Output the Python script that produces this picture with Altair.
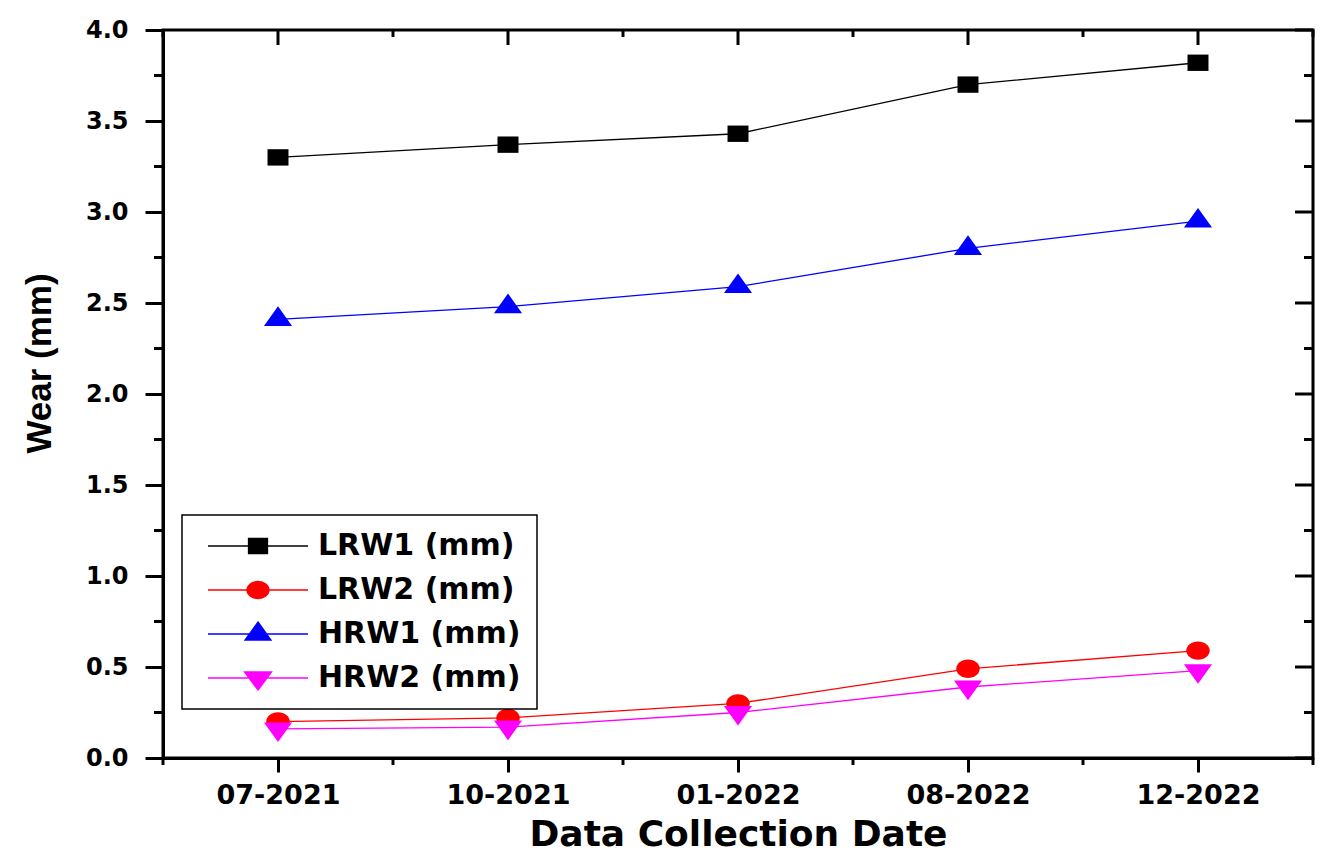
import altair as alt
import pandas as pd

# ---------------- data ----------------
dates = ["07-2021", "10-2021", "01-2022", "08-2022", "12-2022"]
series = ["LRW1 (mm)", "LRW2 (mm)", "HRW1 (mm)", "HRW2 (mm)"]
lrw1 = [3.30, 3.37, 3.43, 3.70, 3.82]
lrw2 = [0.20, 0.22, 0.30, 0.49, 0.59]
hrw1 = [2.41, 2.48, 2.59, 2.80, 2.95]
hrw2 = [0.16, 0.17, 0.25, 0.39, 0.48]
colors = ["#000000", "#FF0000", "#0000FF", "#FF00FF"]

x_major = [1, 2, 3, 4, 5]
x_minor = [0.5, 1.5, 2.5, 3.5, 4.5, 5.5]
y_major = [0.0, 0.5, 1.0, 1.5, 2.0, 2.5, 3.0, 3.5, 4.0]
y_minor = [0.25, 0.75, 1.25, 1.75, 2.25, 2.75, 3.25, 3.75]

# marker shapes (custom paths, unit box scaled by sqrt(size)/2)
point_paths = [
    "M-1,-0.78H1V0.78H-1Z",
    "M-1.12,0A1.12,0.88,0,1,0,1.12,0A1.12,0.88,0,1,0,-1.12,0Z",
    "M0,-1.25L1.34,0.62L-1.34,0.62Z",
    "M0,1.25L1.34,-0.62L-1.34,-0.62Z",
]
legend_paths = [
    "M-5,0H5M-0.95,-0.75H0.95V0.75H-0.95Z",
    "M-5,0H5M-1.1,0A1.1,0.85,0,1,0,1.1,0A1.1,0.85,0,1,0,-1.1,0Z",
    "M-5,0H5M0,-1.2L1.3,0.6L-1.3,0.6Z",
    "M-5,0H5M0,1.2L1.35,-0.6L-1.35,-0.6Z",
]

rows = []
for name, vals in zip(series, [lrw1, lrw2, hrw1, hrw2]):
    for i, (d, v) in enumerate(zip(dates, vals)):
        rows.append({"series": name, "idx": i + 1, "date": d, "wear": v})
df = pd.DataFrame(rows)

W, H = 1150, 728
FONT = "DejaVu Sans"

xscale = alt.Scale(domain=[0.5, 5.5], nice=False, zero=False)
yscale = alt.Scale(domain=[0, 4], nice=False, zero=False)

label_expr = "[" + ",".join("'%s'" % d for d in dates) + "][datum.value - 1]"

x_axis = alt.Axis(
    values=x_major, labelExpr=label_expr, tickSize=14, labelPadding=31,
    labelBaseline="alphabetic", labelFont=FONT, labelFontSize=27,
    labelFontWeight="bold", labelFlush=False, labelOverlap=False,
    title="Data Collection Date", titleFont=FONT, titleFontSize=36,
    titleFontWeight="bold", titleX=575, titleY=87, titleBaseline="alphabetic",
    titleAlign="center", titleColor="black",
)
y_axis = alt.Axis(
    values=y_major, format=".1f", tickSize=18, labelPadding=17,
    labelFont=FONT, labelFontSize=24, labelFontWeight="bold",
    labelFlush=False, labelOverlap=False,
    title="Wear (mm)", titleFont="Liberation Sans", titleFontSize=35,
    titleFontWeight="bold", titleX=-113, titleY=333, titleBaseline="alphabetic",
    titleAlign="center", titleAngle=270, titleColor="black",
)

x_enc = alt.X("idx:Q", scale=xscale, axis=x_axis)
y_enc = alt.Y("wear:Q", scale=yscale, axis=y_axis)

series_layers = []
for name, col, path in zip(series, colors, point_paths):
    base = alt.Chart(df).transform_filter(alt.datum.series == name)
    series_layers.append(
        base.mark_line(strokeWidth=1.3, color=col).encode(x=x_enc, y=y_enc)
    )
    series_layers.append(
        base.mark_point(shape=path, filled=True, size=440, color=col, opacity=1, strokeWidth=0)
        .encode(x=x_enc, y=y_enc)
    )

# tick marks for minor / mirrored axes
xmaj_df = pd.DataFrame({"idx": x_major})
xmin_df = pd.DataFrame({"idx": x_minor})
ymaj_df = pd.DataFrame({"wear": y_major})
ymin_df = pd.DataFrame({"wear": y_minor})

def rule(d):
    return alt.Chart(d).mark_rule(color="black", strokeWidth=3)

ticks = [
    rule(xmin_df).encode(x=x_enc, y=alt.value(H), y2=alt.value(H + 7)),
    rule(xmaj_df).encode(x=x_enc, y=alt.value(0), y2=alt.value(15)),
    rule(xmin_df).encode(x=x_enc, y=alt.value(0), y2=alt.value(7)),
    rule(ymin_df).encode(y=y_enc, x=alt.value(0), x2=alt.value(-9)),
    rule(ymaj_df).encode(y=y_enc, x=alt.value(W), x2=alt.value(W - 18)),
    rule(ymin_df).encode(y=y_enc, x=alt.value(W), x2=alt.value(W - 9)),
]

leg = alt.Legend(
    title=None, orient="none", legendX=19, legendY=485, symbolSize=400,
    symbolStrokeWidth=1.3, symbolOffset=45, labelFont=FONT, labelFontSize=30,
    labelFontWeight="bold", labelColor="black", labelOffset=45,
    rowPadding=14, padding=16, strokeColor="black", fillColor="white",
    symbolOpacity=1, labelLimit=400,
)
legend_layer = alt.Chart(df).transform_filter("false").mark_point(filled=True, opacity=1).encode(
    x=x_enc, y=y_enc,
    fill=alt.Fill("series:N", scale=alt.Scale(domain=series, range=colors), legend=leg),
    stroke=alt.Stroke("series:N", scale=alt.Scale(domain=series, range=colors), legend=leg),
    shape=alt.Shape("series:N", scale=alt.Scale(domain=series, range=legend_paths), legend=leg),
)

chart = alt.layer(*series_layers, *ticks, legend_layer).properties(
    width=W, height=H,
    padding={"left": 163, "top": 30, "right": 7, "bottom": 101},
    autosize=alt.AutoSizeParams(type="none"),
    background="white",
).configure_view(
    stroke="black", strokeWidth=3,
).configure_axis(
    domainColor="black", domainWidth=3, tickColor="black", tickWidth=3,
    grid=False, labelColor="black",
).configure_legend(
    strokeWidth=1.5,
)

chart.save("out.html", embed_options={"renderer": "svg", "actions": False})
